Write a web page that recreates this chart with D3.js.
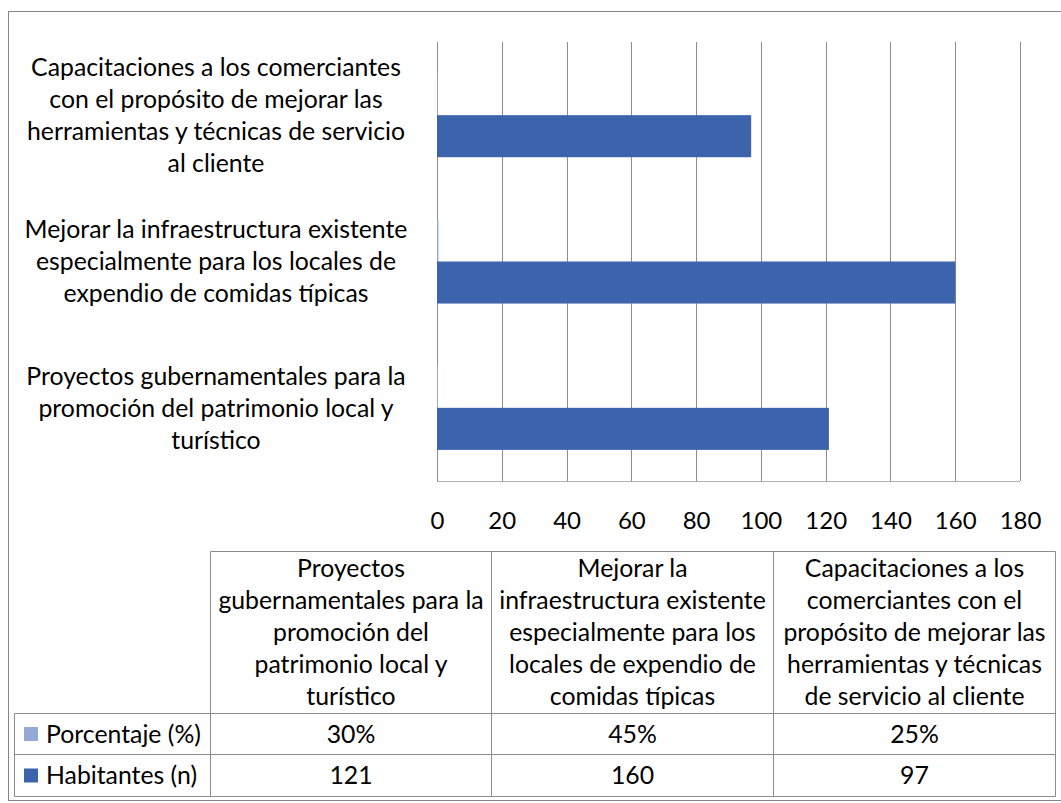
<!DOCTYPE html>
<html>
<head>
<meta charset="utf-8">
<script src="https://cdn.jsdelivr.net/npm/d3@7"></script>
<style>
  html, body { margin: 0; padding: 0; background: #fff; }
  svg { display: block; }
  text { font-family: Lato, "Open Sans", sans-serif; fill: #000; }
</style>
</head>
<body>
<svg id="chart" width="1061" height="803"></svg>
<script>
// ---- data ----
const categories = [
  "Proyectos gubernamentales para la promoción del patrimonio local y turístico",
  "Mejorar la infraestructura existente especialmente para los locales de expendio de comidas típicas",
  "Capacitaciones a los comerciantes con el propósito de mejorar las herramientas y técnicas de servicio al cliente"
];
const axisLabelLines = [
  ["Proyectos gubernamentales para la", "promoción del patrimonio local y", "turístico"],
  ["Mejorar la infraestructura existente", "especialmente para los locales de", "expendio de comidas típicas"],
  ["Capacitaciones a los comerciantes", "con el propósito de mejorar las", "herramientas y técnicas de servicio", "al cliente"]
];
const tableHeaderLines = [
  ["Proyectos", "gubernamentales para la", "promoción del", "patrimonio local y", "turístico"],
  ["Mejorar la", "infraestructura existente", "especialmente para los", "locales de expendio de", "comidas típicas"],
  ["Capacitaciones a los", "comerciantes con el", "propósito de mejorar las", "herramientas y técnicas", "de servicio al cliente"]
];
const seriesNames = ["Porcentaje (%)", "Habitantes (n)"];
const porcentaje = [0.30, 0.45, 0.25];
const habitantes = [121, 160, 97];
const xTicks = [0, 20, 40, 60, 80, 100, 120, 140, 160, 180];
const colors = ["#95a9d8", "#3c64ad"];

// ---- layout ----
const svg = d3.select("#chart");
const plot = { left: 437, right: 1020, top: 42, bottom: 481 };
const fontSize = 24.8;
const tickFontSize = 24;

svg.append("rect").attr("x", 8.5).attr("y", 11.5).attr("width", 1070).attr("height", 789)
  .attr("fill", "#fff").attr("stroke", "#868686").attr("stroke-width", 1);

const x = d3.scaleLinear().domain([0, 180]).range([plot.left, plot.right]);
const y = d3.scaleBand().domain(d3.range(categories.length).reverse())
  .range([plot.top, plot.bottom]).paddingInner(0).paddingOuter(0);
const ySub = d3.scaleBand().domain(seriesNames).range([0, y.bandwidth()])
  .paddingInner(0).paddingOuter(0.74);

// gridlines
const grid = svg.append("g").attr("transform", `translate(0,${plot.bottom})`)
  .call(d3.axisBottom(x).tickValues(xTicks).tickSize(-(plot.bottom - plot.top)).tickFormat(""));
grid.select(".domain").remove();
grid.selectAll("line").attr("stroke", "#8c8c8c").attr("shape-rendering", "crispEdges");
svg.append("line").attr("x1", plot.left).attr("x2", plot.right)
  .attr("y1", plot.bottom).attr("y2", plot.bottom)
  .attr("stroke", "#b0b0b0").attr("shape-rendering", "crispEdges");

// tick labels
const xAxis = svg.append("g").attr("transform", `translate(0,${plot.bottom})`)
  .call(d3.axisBottom(x).tickValues(xTicks).tickSize(0).tickPadding(0));
xAxis.select(".domain").remove();
xAxis.selectAll("text").attr("font-size", tickFontSize).attr("font-family", "Lato, sans-serif")
  .attr("dy", null).attr("y", 48).attr("fill", "#000");

// bars
const seriesData = [porcentaje, habitantes];
seriesData.forEach((vals, si) => {
  svg.append("g").selectAll("rect").data(vals).join("rect")
    .attr("x", x(0))
    .attr("y", (d, i) => y(i) + ySub(seriesNames[si]))
    .attr("width", d => Math.max(0, x(d) - x(0)))
    .attr("height", ySub.bandwidth())
    .attr("fill", colors[si]);
});

// category labels
const lineH = 32;
const labelCx = 216;
axisLabelLines.forEach((lines, i) => {
  const cy = y(i) + y.bandwidth() / 2;
  const t = svg.append("text").attr("text-anchor", "middle").attr("font-size", fontSize);
  lines.forEach((ln, k) => {
    t.append("tspan").attr("x", labelCx)
      .attr("y", cy + (k - (lines.length - 1) / 2) * lineH + fontSize * 0.35)
      .text(ln);
  });
});

// data table
const tbl = { colX: [210.5, 491.5, 773.5, 1055.5], labelLeft: 14.5, headTop: 551.5, headBottom: 713.5, rows: [713.5, 754.5, 796.5] };
const tg = svg.append("g");
const lineColor = "#8c8c8c";
tg.append("line").attr("x1", tbl.colX[0]).attr("x2", tbl.colX[3]).attr("y1", tbl.headTop).attr("y2", tbl.headTop).attr("stroke", lineColor);
tbl.colX.forEach(cx => {
  tg.append("line").attr("x1", cx).attr("x2", cx).attr("y1", tbl.headTop).attr("y2", tbl.rows[2]).attr("stroke", lineColor);
});
tbl.rows.forEach(ry => {
  tg.append("line").attr("x1", tbl.labelLeft).attr("x2", tbl.colX[3]).attr("y1", ry).attr("y2", ry).attr("stroke", lineColor);
});
tg.append("line").attr("x1", tbl.labelLeft).attr("x2", tbl.labelLeft).attr("y1", tbl.rows[0]).attr("y2", tbl.rows[2]).attr("stroke", lineColor);

// header text
tableHeaderLines.forEach((lines, c) => {
  const cx = (tbl.colX[c] + tbl.colX[c + 1]) / 2;
  const cy = (tbl.headTop + tbl.headBottom) / 2;
  const t = tg.append("text").attr("text-anchor", "middle").attr("font-size", fontSize);
  lines.forEach((ln, k) => {
    t.append("tspan").attr("x", cx)
      .attr("y", cy + (k - (lines.length - 1) / 2) * lineH + fontSize * 0.35)
      .text(ln);
  });
});

// rows
const rowValues = [porcentaje.map(v => Math.round(v * 100) + "%"), habitantes.map(v => String(v))];
rowValues.forEach((vals, r) => {
  const cy = (tbl.rows[r] + tbl.rows[r + 1]) / 2;
  tg.append("rect").attr("x", 24).attr("y", cy - 7).attr("width", 14).attr("height", 14).attr("fill", colors[r]);
  tg.append("text").attr("x", 46).attr("y", cy + fontSize * 0.35).attr("font-size", fontSize).text(seriesNames[r]);
  vals.forEach((v, c) => {
    tg.append("text").attr("text-anchor", "middle")
      .attr("x", (tbl.colX[c] + tbl.colX[c + 1]) / 2)
      .attr("y", cy + fontSize * 0.35).attr("font-size", fontSize).text(v);
  });
});
</script>
</body>
</html>
